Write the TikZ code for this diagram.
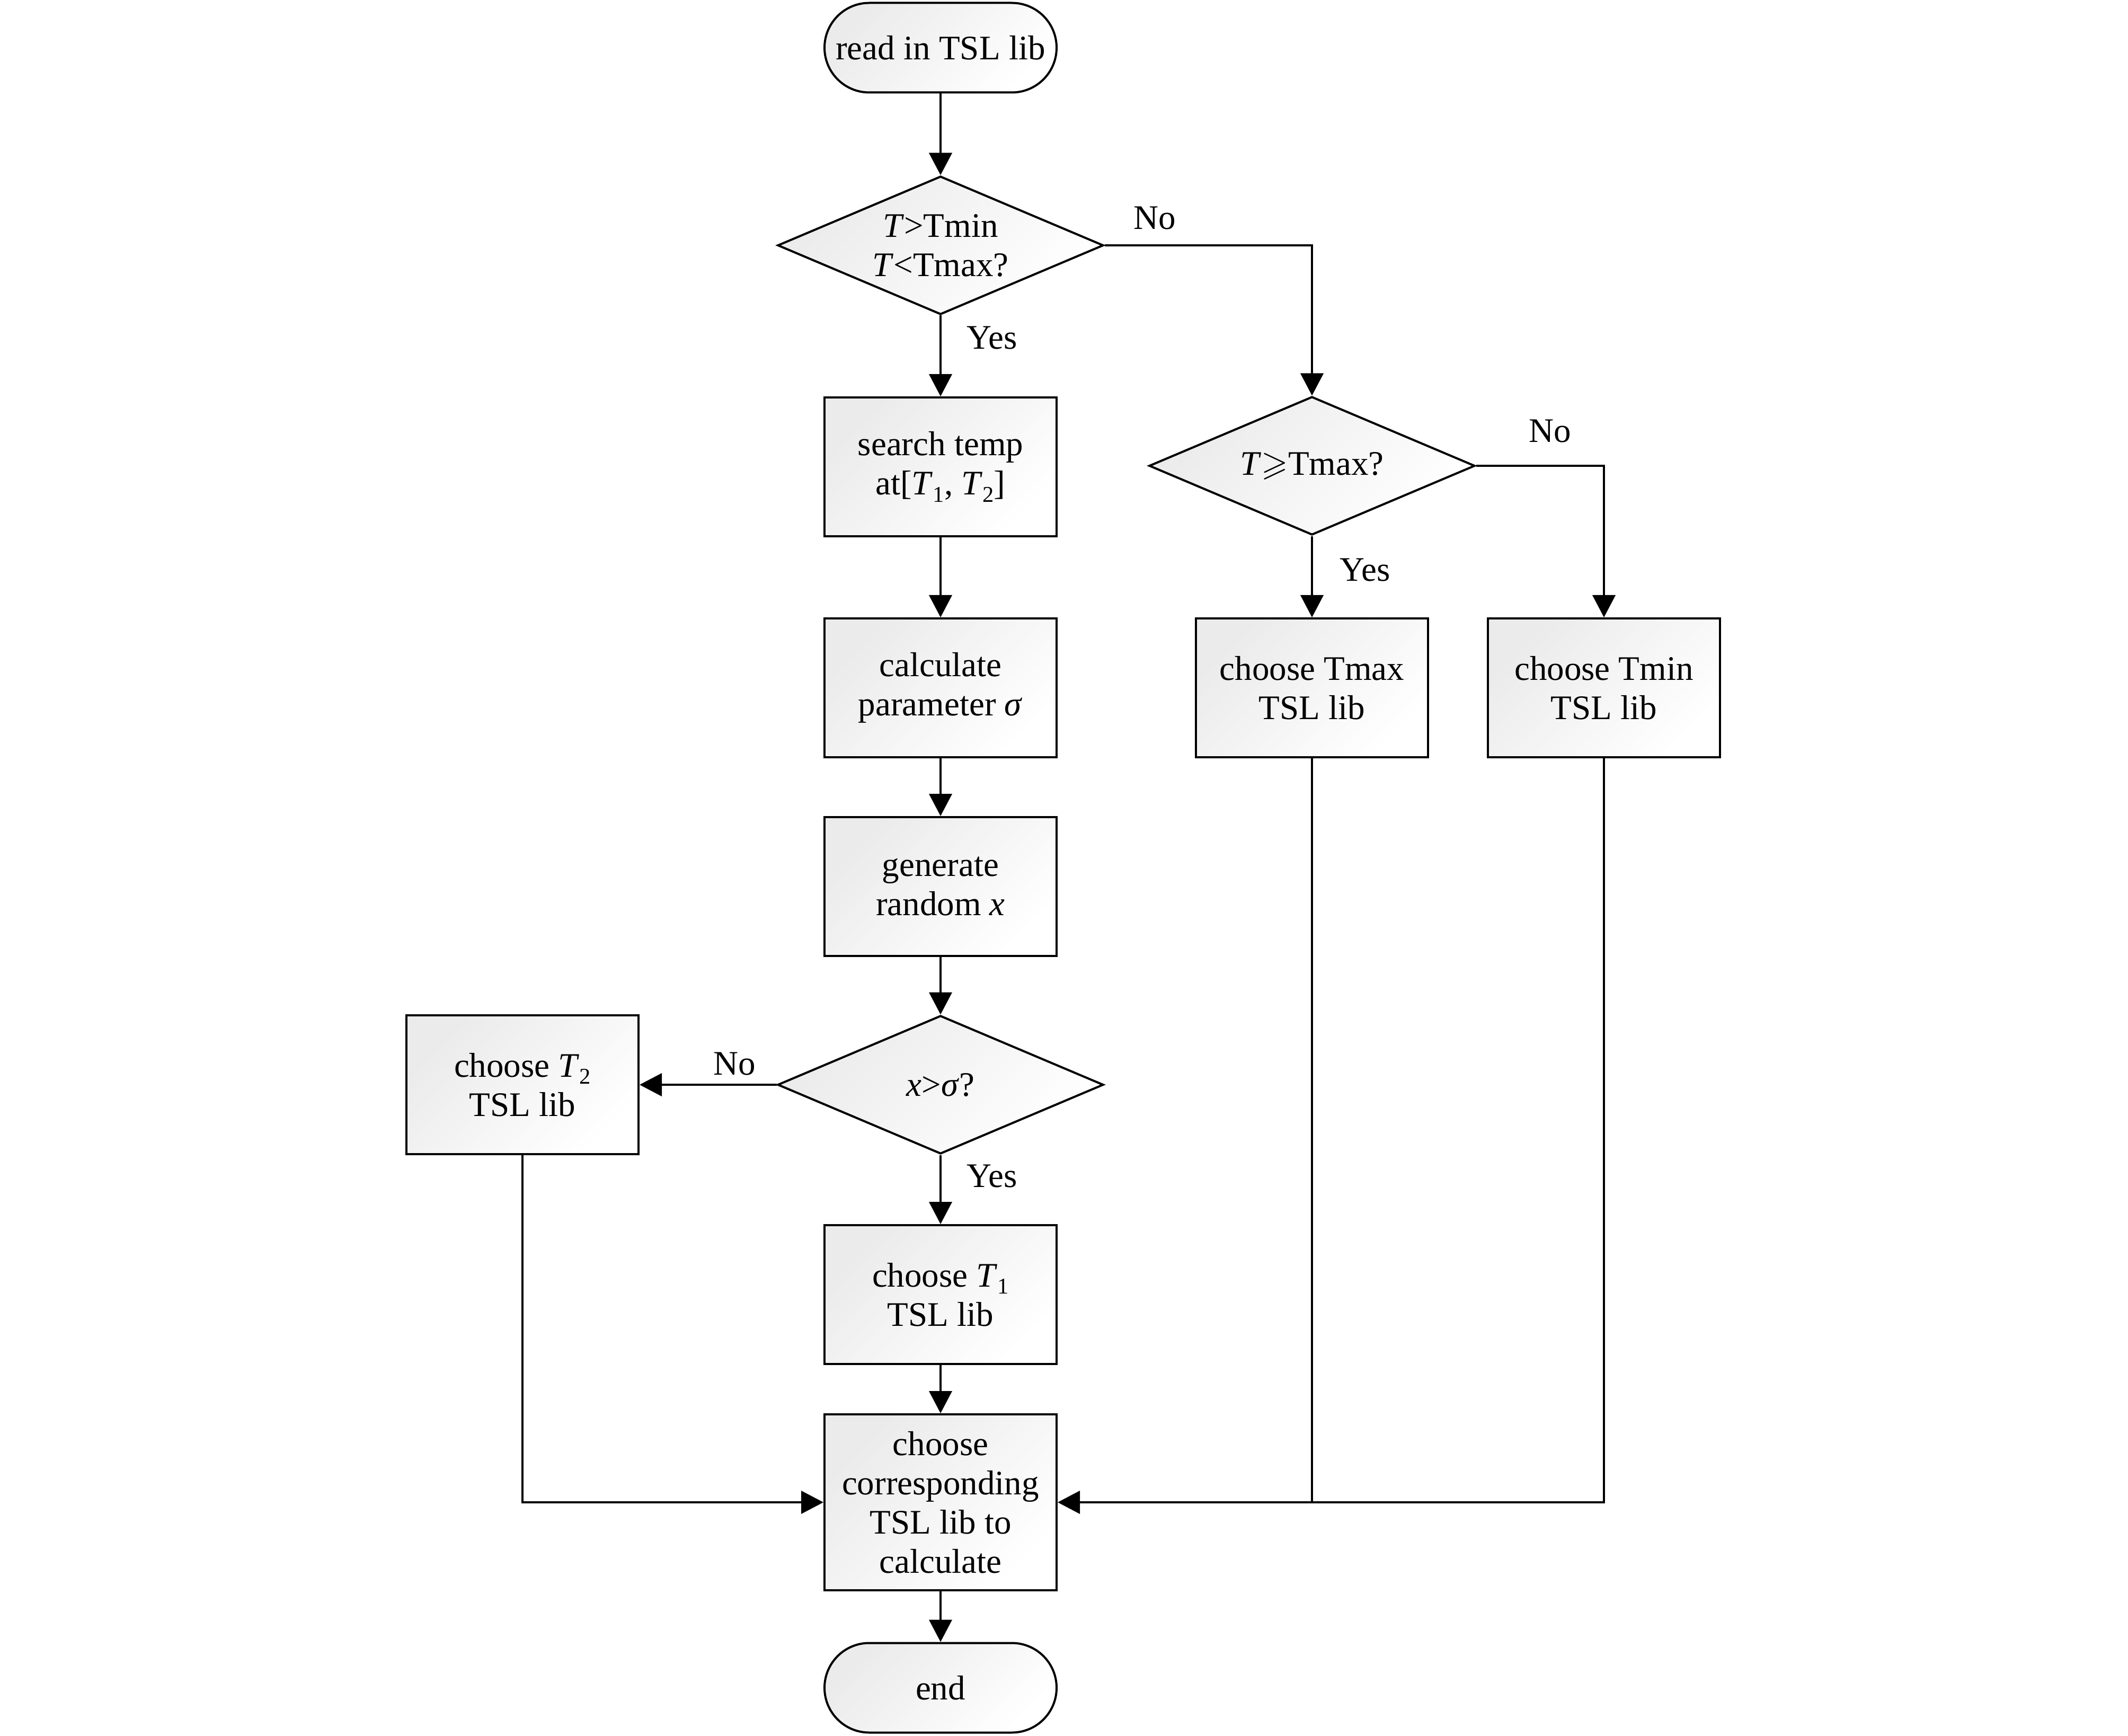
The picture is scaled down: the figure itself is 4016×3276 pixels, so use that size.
\documentclass[tikz,border=0pt]{standalone}
\usepackage{amssymb}
\usepackage{fontspec}
\setmainfont{Liberation Serif}
\usetikzlibrary{shapes.geometric,arrows.meta}
\newcommand{\mysub}[1]{\raisebox{-0.45ex}{\fontsize{8.5}{8.5}\selectfont #1}}
\begin{document}
\begin{tikzpicture}[x=0.2pt,y=-0.2pt,
  font=\fontsize{13}{14.8}\selectfont,
  shadebox/.style={draw, line width=0.8pt, top color=black!8, bottom color=white, shading angle=45, align=center},
  proc/.style={shadebox, rectangle, minimum width=87.6pt, minimum height=52.4pt, inner sep=0pt},
  term/.style={shadebox, rectangle, rounded corners=16.9pt, minimum width=87.6pt, minimum height=33.8pt, inner sep=0pt},
  decide/.style={shadebox, diamond, minimum width=123pt, minimum height=52.2pt, inner sep=0pt, aspect=2.35},
  conn/.style={line width=0.8pt, -{Triangle[length=8.4pt,width=8.6pt]}},
  plain/.style={line width=0.8pt},
  lab/.style={inner sep=0pt}]
\useasboundingbox (0,0) rectangle (4016,3276);
\node[term] (start) at (1775,90) {read in TSL lib};
\node[decide] (d1) at (1775,463) {\textit{T}>Tmin\\\textit{T}<Tmax?};
\node[proc] (search) at (1775,881) {search temp\\at[\textit{T}\mysub{1}, \textit{T}\mysub{2}]};
\node[decide] (d2) at (2476,879) {\textit{T}$\geqslant$Tmax?};
\node[proc] (calc) at (1775,1298) {calculate\\parameter \textit{σ}};
\node[proc] (tmax) at (2476,1298) {choose Tmax\\TSL lib};
\node[proc] (tmin) at (3027,1298) {choose Tmin\\TSL lib};
\node[proc] (gen) at (1775,1673) {generate\\random \textit{x}};
\node[decide] (d3) at (1775,2047) {\textit{x}>\textit{σ}?};
\node[proc] (t2) at (986,2047) {choose \textit{T}\mysub{2}\\TSL lib};
\node[proc] (t1) at (1775,2443) {choose \textit{T}\mysub{1}\\TSL lib};
\node[proc, minimum height=66.4pt] (corr) at (1775,2835) {choose\\corresponding\\TSL lib to\\calculate};
\node[term] (stop) at (1775,3185) {end};
% labels
\node[lab] (l1no) at (2179,412) {No};
\node[lab] (l1yes) at (1872,638) {Yes};
\node[lab] (l2no) at (2925,814) {No};
\node[lab] (l2yes) at (2576,1076) {Yes};
\node[lab] (l3no) at (1386,2008) {No};
\node[lab] (l3yes) at (1872,2220) {Yes};
% connectors
\draw[conn] (start.south) -- (d1.north);
\draw[conn] (d1.south) -- (search.north);
\draw[conn] (d1.east) -| (d2.north);
\draw[conn] (search.south) -- (calc.north);
\draw[conn] (calc.south) -- (gen.north);
\draw[conn] (gen.south) -- (d3.north);
\draw[conn] (d2.south) -- (tmax.north);
\draw[conn] (d2.east) -| (tmin.north);
\draw[conn] (d3.west) -- (t2.east);
\draw[conn] (d3.south) -- (t1.north);
\draw[conn] (t1.south) -- (corr.north);
\draw[conn] (corr.south) -- (stop.north);
\draw[conn] (t2.south) |- (corr.west);
\draw[conn] (tmin.south) |- (corr.east);
\coordinate (join) at (tmax.south |- corr.east);
\draw[plain] (tmax.south) -- (join);
\end{tikzpicture}
\end{document}
